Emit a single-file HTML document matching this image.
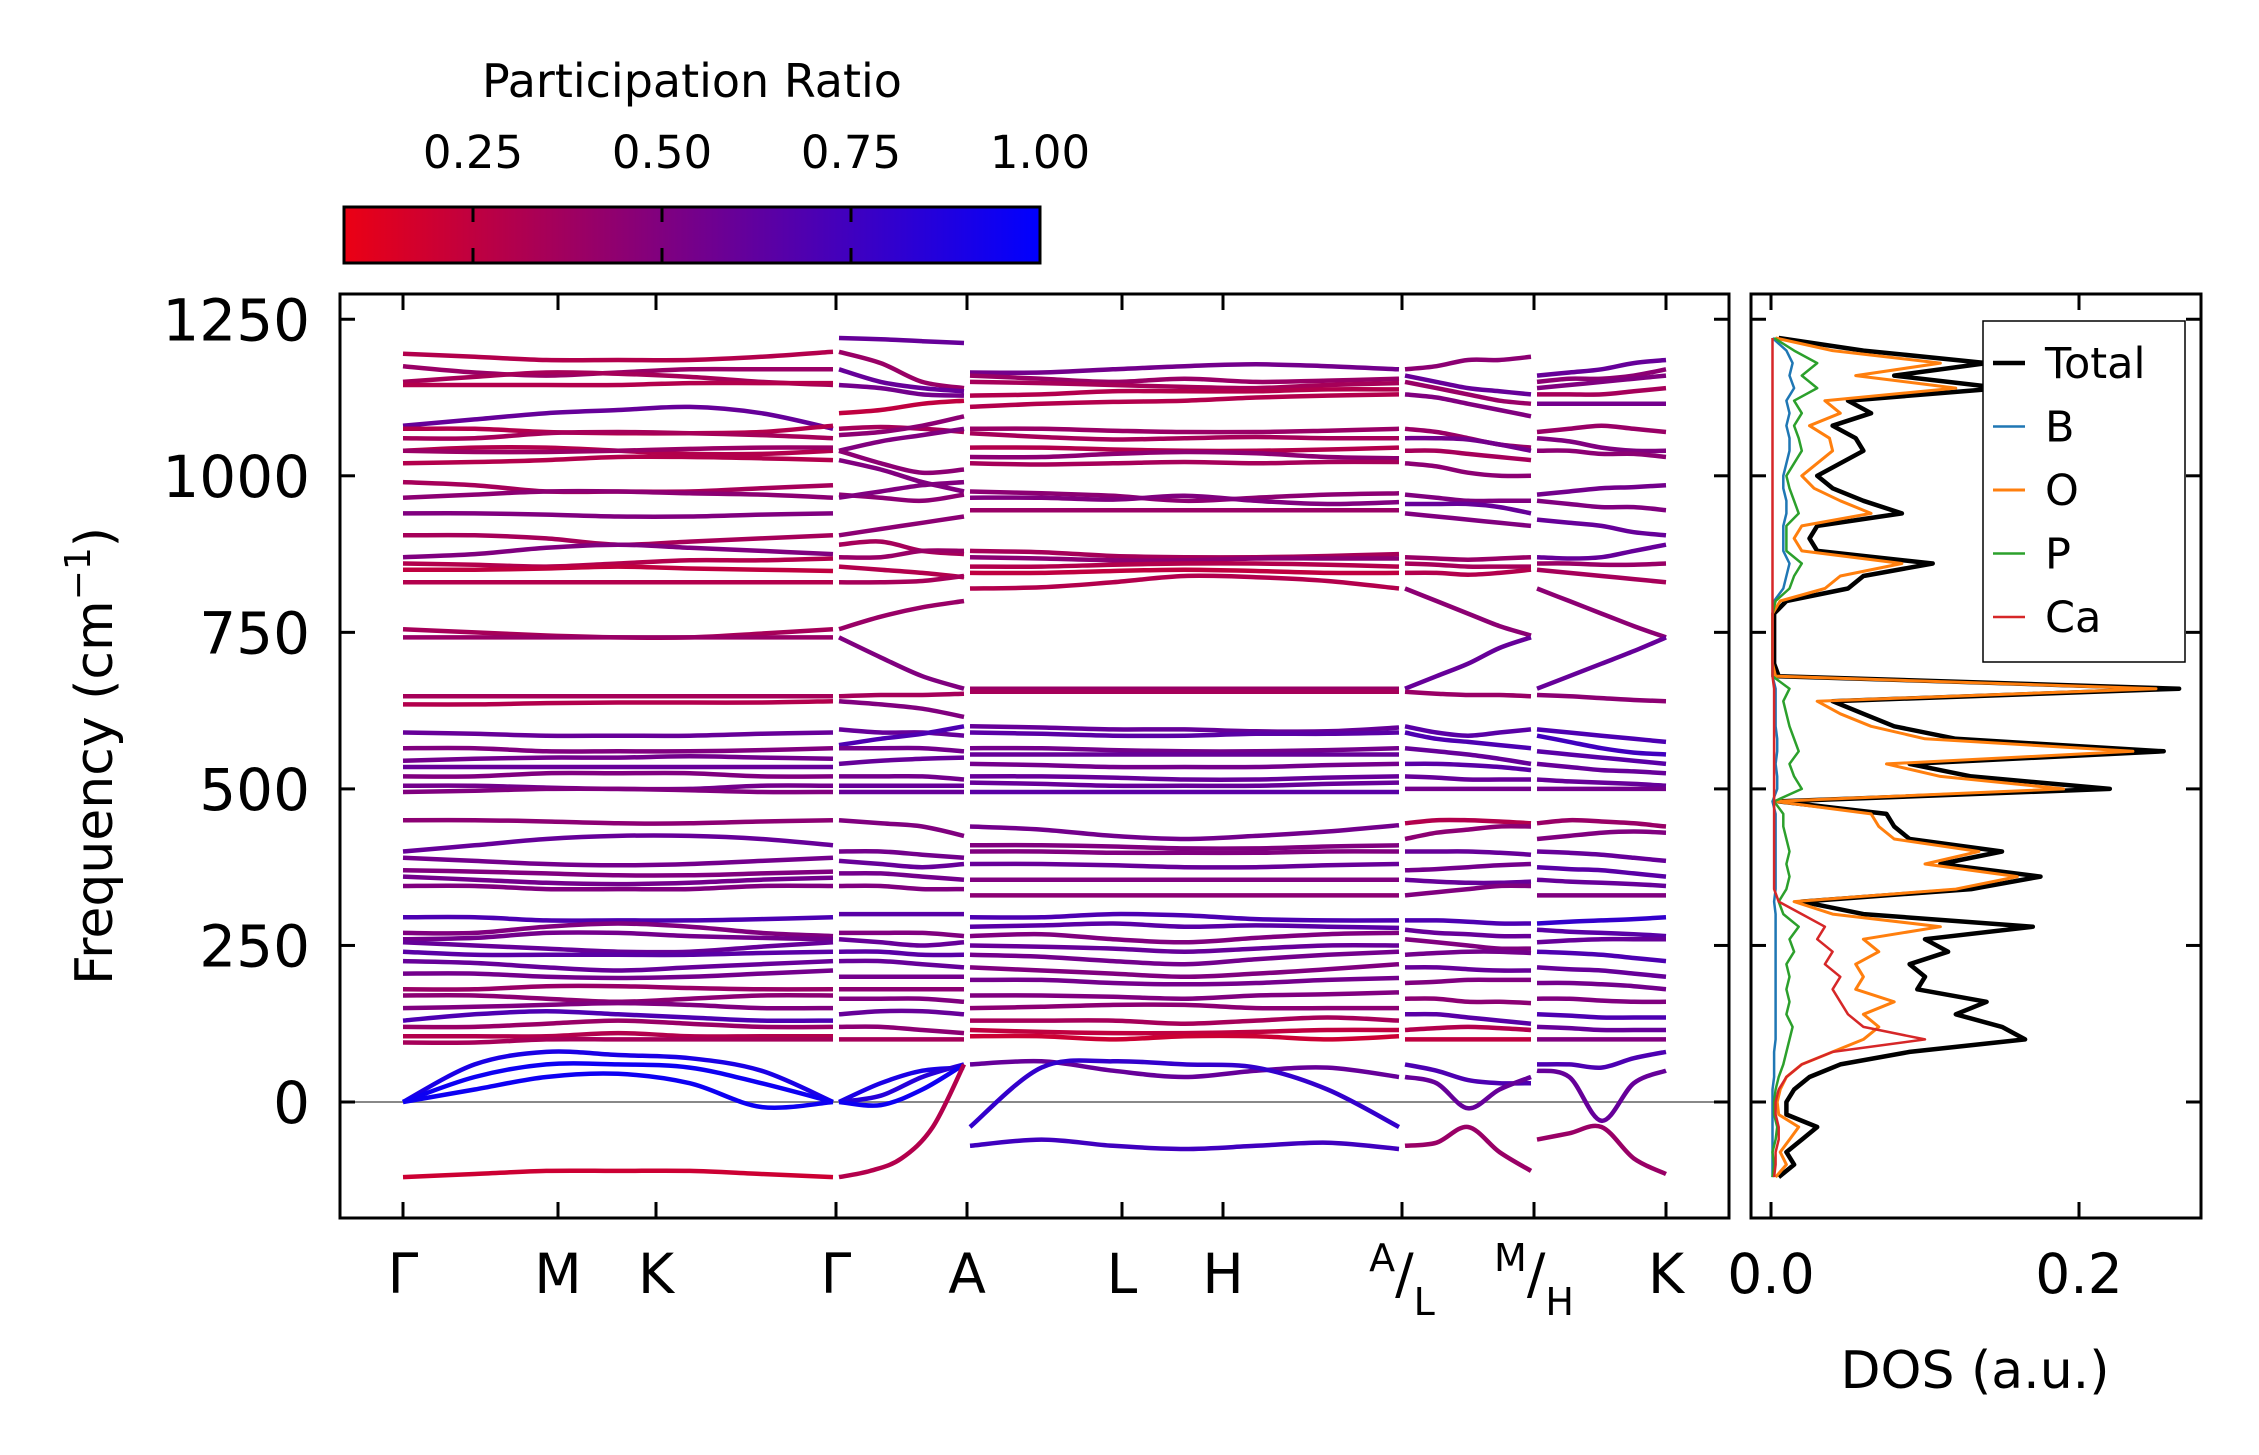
<!DOCTYPE html>
<html><head><meta charset="utf-8">
<style>
html,body{margin:0;padding:0;background:#fff;}
svg{display:block;font-family:"DejaVu Sans","Liberation Sans",sans-serif;}
</style></head>
<body>
<svg id="chart" width="2259" height="1455" viewBox="0 0 2259 1455" xmlns="http://www.w3.org/2000/svg">
<defs>
<linearGradient id="cmap" x1="0" x2="1" y1="0" y2="0">
<stop offset="0" stop-color="rgb(235,0,20)"/>
<stop offset="1" stop-color="rgb(0,0,255)"/>
</linearGradient>
<clipPath id="clipMain"><rect x="340" y="294" width="1389" height="924"/></clipPath>
<clipPath id="clipDos"><rect x="1751" y="294" width="450" height="924"/></clipPath>
</defs>
<g id="colorbar">
<text x="692" y="97" font-size="46" text-anchor="middle">Participation Ratio</text>
<rect x="344" y="207" width="696" height="56" fill="url(#cmap)" stroke="#000" stroke-width="3"/>
</g>
<g id="main"></g>
<g id="dos"></g>
</svg>
<script>
// ---------- data ----------
const kLabels = ["Γ","M","K","Γ","A","L","H","A/L","M/H","K"];
const yTicks = [0,250,500,750,1000,1250];
const cbTicks = [0.25,0.50,0.75,1.00];
const cbTickLabels = ["0.25","0.50","0.75","1.00"];
const dosTicks = [0.0,0.2];
const dosTickLabels = ["0.0","0.2"];
const panelRange = [[0,3],[3,4],[4,7],[7,8],[8,9]];

const bands1 = [
[1195,1190,1185,1185,1185,1190,1198],[1175,1165,1160,1165,1170,1170,1170],[1150,1158,1165,1163,1158,1150,1145],[1145,1145,1145,1145,1148,1148,1148],
[1080,1090,1100,1105,1110,1100,1075],[1075,1075,1070,1068,1068,1070,1080],[1060,1060,1068,1070,1068,1065,1060],[1040,1045,1045,1040,1035,1035,1040],
[1040,1038,1038,1040,1043,1045,1045],[1020,1022,1025,1030,1030,1028,1025],[990,985,975,975,975,980,985],[965,970,975,975,972,970,965],
[940,940,938,935,935,938,940],[905,905,900,890,895,900,905],[870,875,885,890,885,880,875],[860,858,855,860,865,865,868],
[850,850,852,855,852,850,848],[830,830,830,830,830,830,830],[755,750,745,742,742,748,755],[742,742,742,742,742,742,742],
[648,648,648,648,648,648,648],[635,635,637,638,638,638,640],[590,588,585,585,585,588,590],[565,565,560,560,560,562,565],
[545,548,550,550,552,550,548],[535,535,535,535,535,535,535],[520,520,525,525,525,520,520],[505,505,502,500,500,505,505],
[495,497,500,500,498,495,495],[450,450,448,445,445,448,450],[400,410,420,425,425,420,410],[390,385,380,378,380,385,390],
[370,368,365,362,362,365,368],[360,355,350,348,350,355,358],[345,345,340,340,340,345,345],[295,295,290,290,290,292,295],
[270,270,280,285,280,270,265],[260,262,270,270,265,262,260],[255,250,245,240,240,248,255],[240,235,235,235,235,238,240],
[225,222,215,210,215,220,225],[205,205,200,198,200,205,210],[180,180,185,185,182,180,180],[170,170,165,160,165,170,170],
[150,152,155,158,155,150,150],[130,140,145,140,135,130,130],[120,120,125,130,125,120,120],[105,105,105,110,105,105,105],
[95,95,100,100,100,100,100],[0,60,80,75,70,50,0],[0,40,60,60,55,30,0],[0,20,40,45,30,-8,0],[-120,-115,-110,-110,-110,-115,-120]
];
const pr1 = [0.3,0.4,0.35,0.3,0.6,0.3,0.35,0.3,0.4,0.3,0.35,0.45,0.5,0.35,0.5,0.3,0.25,0.3,0.35,0.4,
0.35,0.3,0.6,0.5,0.55,0.6,0.5,0.55,0.5,0.45,0.6,0.55,0.5,0.55,0.5,0.7,0.5,0.55,0.6,0.65,
0.6,0.55,0.4,0.45,0.5,0.7,0.4,0.3,0.35,0.9,0.95,0.95,0.2];

const bands2 = [
[1220,1218,1215,1212],[1198,1180,1150,1140],[1170,1150,1140,1135],[1145,1140,1130,1128],[1100,1105,1115,1120],
[1075,1078,1075,1070],[1065,1070,1080,1095],[1040,1055,1065,1075],[1040,1020,1005,1010],[1025,1010,990,975],
[970,965,960,970],[965,975,985,990],[905,915,925,935],[890,895,880,875],[870,870,880,880],[855,850,845,838],
[830,830,832,840],[755,775,790,800],[742,710,680,660],[648,650,650,652],[640,635,628,615],[595,590,590,585],
[570,580,588,600],[565,565,565,560],[540,545,548,550],[520,520,520,515],[505,505,505,505],[495,495,495,495],
[450,445,440,425],[400,400,395,390],[385,380,375,380],[365,365,360,355],[345,345,340,340],[300,300,300,300],
[270,270,270,265],[260,255,250,255],[240,240,235,235],[225,225,220,215],[200,200,200,200],[180,180,180,180],
[165,165,165,160],[140,145,145,140],[120,120,115,110],[100,100,100,100],[0,30,50,55],[0,10,40,60],[0,-5,20,60],
[-120,-110,-90,-40,60]
];
const pr2 = [0.6,0.4,0.6,0.55,0.25,0.35,0.45,0.5,0.45,0.5,0.45,0.5,0.45,0.35,0.4,0.3,0.35,0.4,0.5,0.35,0.5,0.6,
0.7,0.55,0.6,0.55,0.6,0.6,0.5,0.55,0.6,0.55,0.5,0.65,0.5,0.6,0.65,0.6,0.55,0.45,0.5,0.6,0.45,0.35,0.9,0.85,0.95,0.3];

const bands3 = [
[1165,1165,1170,1175,1178,1175,1170],[1160,1155,1150,1155,1150,1152,1155],[1150,1148,1145,1142,1140,1145,1148],[1128,1130,1135,1135,1135,1138,1138],
[1110,1115,1118,1120,1125,1128,1130],[1075,1075,1072,1070,1070,1072,1075],[1068,1062,1058,1060,1062,1060,1060],[1045,1045,1042,1040,1040,1042,1045],
[1030,1030,1035,1038,1036,1030,1028],[1020,1018,1020,1022,1020,1022,1022],[975,972,968,960,965,970,972],[965,965,962,968,960,955,958],
[945,945,945,945,945,945,945],[880,878,872,870,870,872,875],[870,868,865,865,868,868,868],[855,855,858,860,860,858,855],
[845,845,848,850,848,845,845],[820,822,830,840,838,832,820],[660,660,660,660,660,660,660],[655,655,655,655,655,655,655],
[600,598,595,595,592,592,598],[590,588,585,585,588,588,590],[565,565,562,560,560,562,565],[555,555,555,555,555,555,555],
[540,538,535,535,535,538,540],[520,520,518,515,515,518,520],[510,508,505,505,505,508,510],[495,495,495,495,495,495,495],
[440,435,425,420,425,432,442],[410,410,408,405,405,408,410],[400,400,398,398,398,400,400],[380,380,378,375,375,378,380],
[355,355,355,355,355,355,355],[330,330,330,330,330,330,330],[295,295,300,298,292,290,290],[280,282,285,280,282,280,278],
[265,268,260,255,262,268,270],[250,248,245,240,245,250,250],[235,232,225,220,228,235,240],[215,210,205,200,205,212,220],
[195,195,190,188,190,195,198],[170,170,168,165,170,172,175],[150,152,155,155,150,150,150],[130,130,130,125,130,135,130],
[115,112,110,110,112,115,115],[105,105,100,105,105,100,105],[60,65,50,40,50,55,40],[-40,55,65,60,55,20,-40],[-70,-60,-70,-75,-70,-65,-75]
];
const pr3 = [0.55,0.4,0.35,0.3,0.3,0.4,0.35,0.3,0.45,0.35,0.45,0.5,0.4,0.35,0.45,0.3,0.25,0.3,0.4,0.35,
0.6,0.65,0.55,0.6,0.55,0.6,0.6,0.65,0.55,0.5,0.5,0.6,0.5,0.45,0.7,0.65,0.5,0.6,0.55,0.5,
0.55,0.5,0.45,0.35,0.25,0.2,0.6,0.8,0.75];

const bands4 = [
[1170,1175,1185,1185,1190],[1160,1150,1140,1135,1130],[1150,1140,1130,1120,1115],[1130,1125,1115,1105,1095],
[1075,1070,1060,1050,1045],[1060,1060,1058,1050,1040],[1040,1040,1035,1030,1025],[1020,1015,1005,1000,1000],
[970,965,960,960,960],[955,955,955,950,940],[940,935,930,925,920],[870,868,866,868,870],[860,858,855,855,855],
[845,845,842,845,850],[820,800,780,760,745],[660,680,700,725,742],[655,652,650,650,648],[600,590,585,590,595],
[590,580,575,570,565],[565,560,555,548,540],[540,540,538,535,530],[520,518,515,515,515],[500,500,500,500,500],
[445,450,450,448,445],[420,430,435,440,440],[400,400,400,398,395],[370,372,375,378,380],[355,352,350,350,352],
[330,335,340,345,345],[290,290,288,285,285],[275,270,268,265,265],[260,255,250,245,245],[235,238,240,240,238],
[215,215,212,210,210],[190,192,195,195,195],[165,165,160,160,158],[140,140,135,130,125],[115,118,120,118,115],
[100,100,100,100,100],[60,50,35,30,30],[40,30,-10,20,40],[-70,-65,-40,-80,-110]
];
const pr4 = [0.45,0.6,0.4,0.5,0.4,0.55,0.35,0.45,0.5,0.6,0.5,0.4,0.35,0.3,0.45,0.6,0.4,0.65,0.7,0.6,0.65,0.6,0.55,
0.3,0.45,0.6,0.55,0.6,0.5,0.7,0.6,0.5,0.55,0.6,0.5,0.45,0.65,0.3,0.25,0.7,0.6,0.4];

const bands5 = [
[1160,1165,1170,1180,1185],[1150,1155,1155,1160,1170],[1140,1145,1150,1155,1160],[1130,1130,1130,1135,1140],
[1115,1115,1115,1115,1115],[1070,1075,1080,1075,1070],[1060,1055,1045,1040,1040],[1040,1040,1035,1035,1030],
[970,975,980,982,985],[960,955,950,950,945],[930,925,920,910,905],[870,868,870,880,890],[860,860,858,858,860],
[850,845,840,835,830],[820,800,780,760,742],[660,680,700,720,742],[650,648,645,642,640],[595,590,585,580,575],
[585,575,565,558,555],[560,555,550,545,540],[540,535,530,528,525],[515,512,510,508,505],[500,500,500,500,500],
[445,450,448,445,440],[420,425,430,432,430],[400,398,395,390,385],[375,372,370,365,360],[355,352,350,348,345],
[330,330,330,330,330],[285,288,290,292,295],[275,272,270,268,265],[255,258,260,260,260],[240,238,235,230,225],
[215,212,210,205,200],[190,190,188,185,180],[165,165,162,160,160],[140,138,135,135,135],[120,118,115,115,115],
[100,100,100,100,100],[60,60,55,70,80],[50,40,-30,30,50],[-60,-50,-40,-90,-115]
];
const pr5 = [0.6,0.45,0.5,0.35,0.55,0.4,0.5,0.45,0.55,0.5,0.6,0.6,0.4,0.35,0.45,0.6,0.45,0.7,0.75,0.65,0.6,0.6,0.55,
0.4,0.5,0.6,0.65,0.6,0.5,0.8,0.65,0.6,0.7,0.6,0.55,0.5,0.7,0.6,0.5,0.7,0.6,0.4];

const dosFreq = [-120,-100,-80,-60,-40,-20,0,20,40,60,80,100,120,140,160,180,200,220,240,260,280,300,320,340,360,380,400,420,440,460,480,500,520,540,560,580,600,620,640,660,680,700,720,740,760,780,800,820,840,860,880,900,920,940,960,980,1000,1020,1040,1060,1080,1100,1120,1140,1160,1180,1200,1220];
const dosTotal = [5,15,10,20,30,10,10,15,25,45,90,165,150,120,140,95,100,90,115,100,170,60,20,130,175,110,150,90,80,75,5,220,130,90,255,120,80,60,40,265,5,2,2,2,2,2,10,50,60,105,30,25,30,85,60,40,30,45,60,55,40,65,50,150,80,140,60,5];
const dosO = [3,10,6,12,18,5,4,6,10,20,40,60,70,60,80,55,60,55,70,60,110,40,15,120,160,100,135,80,70,65,3,190,110,75,235,100,65,45,30,250,3,1,1,1,1,1,6,35,45,85,20,15,20,65,45,28,20,30,40,38,25,45,35,120,55,110,40,3];
const dosCa = [2,3,3,5,5,3,3,5,10,20,40,100,60,50,45,40,45,35,40,30,35,20,5,2,2,2,2,2,2,2,2,2,2,2,2,2,2,2,2,2,1,1,1,1,1,1,1,1,1,1,1,1,1,1,1,1,1,1,1,1,1,1,1,1,1,1,1,1];
const dosP = [1,2,1,3,4,2,2,3,5,8,10,12,14,10,12,10,12,10,15,12,18,8,5,10,12,10,12,10,8,8,2,20,15,12,18,15,12,10,8,12,1,1,1,1,1,1,3,12,15,20,10,10,10,18,15,12,10,15,20,18,15,20,15,30,20,30,15,2];
const dosB = [1,1,1,1,1,1,1,1,2,2,2,3,3,3,3,3,3,3,3,3,3,3,2,3,3,3,3,3,3,3,1,4,4,3,4,4,3,3,3,3,1,1,1,1,1,1,2,8,10,12,8,8,8,10,10,8,8,10,12,12,10,12,10,15,12,14,10,1];

// ---------- axes ----------
const NS="http://www.w3.org/2000/svg";
const svg=document.getElementById('chart');
const mainG=document.getElementById('main');
const dosG=document.getElementById('dos');
const kX=[403,558,656,836,967,1122,1223,1402,1534,1666];
function xk(i){return kX[i];}
function yF(v){return 1102 - v*0.6262;}
function xD(d){return 1771 + d*1540;}
function cbX(p){return 1040 - (1-p)*756;}
function prColor(p){let t=Math.max(0,Math.min(1,(p-0.08)/0.92));return `rgb(${Math.round(235*(1-t))},0,${Math.round(20+235*t)})`;}
function mk(tag,attrs,parent){const e=document.createElementNS(NS,tag);for(const k in attrs)e.setAttribute(k,attrs[k]);(parent||svg).appendChild(e);return e;}
function smoothPath(pts){
  let d=`M${pts[0][0].toFixed(1)},${pts[0][1].toFixed(1)}`;
  for(let i=0;i<pts.length-1;i++){
    const p0=pts[Math.max(0,i-1)],p1=pts[i],p2=pts[i+1],p3=pts[Math.min(pts.length-1,i+2)];
    const c1=[p1[0]+(p2[0]-p0[0])/6,p1[1]+(p2[1]-p0[1])/6];
    const c2=[p2[0]-(p3[0]-p1[0])/6,p2[1]-(p3[1]-p1[1])/6];
    d+=`C${c1[0].toFixed(1)},${c1[1].toFixed(1)} ${c2[0].toFixed(1)},${c2[1].toFixed(1)} ${p2[0].toFixed(1)},${p2[1].toFixed(1)}`;
  }
  return d;
}

cbTicks.forEach((t,i)=>{
  const x=cbX(t);
  if(t<1){
    const a=mk('line',{x1:x,x2:x,y1:207,y2:222,stroke:'#000','stroke-width':3});
    
    
    const b=mk('line',{x1:x,x2:x,y1:248,y2:263,stroke:'#000','stroke-width':3});
    
    
  }
  const tx=mk('text',{x:x,y:168,'font-size':45,'text-anchor':'middle'});
  tx.textContent=cbTickLabels[i];
  
  
});

const zl=mk('line',{x1:340,x2:1729,y1:yF(0),y2:yF(0),stroke:'#888','stroke-width':2},mainG);



const bandSets=[[bands1,pr1],[bands2,pr2],[bands3,pr3],[bands4,pr4],[bands5,pr5]];
const bandG=mk('g',{'clip-path':'url(#clipMain)'},mainG);


bandSets.forEach(([bands,prs],pi)=>{
  const x0=xk(panelRange[pi][0])+ (pi>0?3:0), x1=xk(panelRange[pi][1]) - (pi<4?3:0);
  bands.forEach((b,bi)=>{
    const n=b.length;
    const pts=b.map((v,j)=>[x0+(x1-x0)*j/(n-1), yF(v)]);
    const p=mk('path',{d:smoothPath(pts),fill:'none',stroke:prColor(prs[bi]!==undefined?prs[bi]:0.5),'stroke-width':4.5,'stroke-linecap':'butt'},bandG);
    
    
  });
});

const mf=mk('rect',{x:340,y:294,width:1389,height:924,fill:'none',stroke:'#000','stroke-width':3},mainG);


yTicks.forEach(v=>{
  const y=yF(v);
  [[340,355],[1714,1729],[1751,1766],[2186,2201]].forEach(([a,b])=>{
    const t=mk('line',{x1:a,x2:b,y1:y,y2:y,stroke:'#000','stroke-width':3});
    
    
  });
  const tx=mk('text',{x:310,y:y+21,'font-size':58,'text-anchor':'end'});
  tx.textContent=String(v);
  
  
});
kLabels.forEach((lab,i)=>{
  const x=xk(i);
  const t1=mk('line',{x1:x,x2:x,y1:294,y2:310,stroke:'#000','stroke-width':3});
  
  
  const t2=mk('line',{x1:x,x2:x,y1:1202,y2:1218,stroke:'#000','stroke-width':3});
  
  
  const tx=mk('text',{x:x,y:1293,'font-size':55,'text-anchor':'middle'});
  if(lab.includes('/')){
    const [a,b]=lab.split('/');
    const s1=mk('tspan',{'font-size':38,dy:-22},tx);s1.textContent=a;
    const s2=mk('tspan',{'font-size':55,dy:22},tx);s2.textContent='/';
    const s3=mk('tspan',{'font-size':38,dy:22},tx);s3.textContent=b;
  } else tx.textContent=lab;
  
  
});
const yl=mk('text',{x:0,y:0,'font-size':52,'text-anchor':'middle',transform:'translate(112,756) rotate(-90)'});


const ys1=mk('tspan',{},yl);ys1.textContent='Frequency (cm';
const ys2=mk('tspan',{'font-size':36,dy:-22},yl);ys2.textContent='−1';
const ys3=mk('tspan',{dy:22},yl);ys3.textContent=')';

const dosLines=[[dosTotal,'#000',4.5,'dos-total'],[dosB,'#1f77b4',2.5,'dos-b'],[dosO,'#ff7f0e',3,'dos-o'],[dosP,'#2ca02c',2.5,'dos-p'],[dosCa,'#d62728',2.5,'dos-ca']];
const dclip=mk('g',{'clip-path':'url(#clipDos)'},dosG);


dosLines.forEach(([arr,col,w,name])=>{
  let d='';
  arr.forEach((v,i)=>{d+=(i?'L':'M')+xD(v/1000).toFixed(1)+','+yF(dosFreq[i]).toFixed(1);});
  const p=mk('path',{d:d,fill:'none',stroke:col,'stroke-width':w,'stroke-linejoin':'round'},dclip);
  
  
});
const df=mk('rect',{x:1751,y:294,width:450,height:924,fill:'none',stroke:'#000','stroke-width':3},dosG);


dosTicks.forEach((v,i)=>{
  const x=xD(v);
  const t1=mk('line',{x1:x,x2:x,y1:1202,y2:1218,stroke:'#000','stroke-width':3});
  
  
  const t2=mk('line',{x1:x,x2:x,y1:294,y2:310,stroke:'#000','stroke-width':3});
  
  
  const tx=mk('text',{x:x,y:1293,'font-size':55,'text-anchor':'middle'});
  tx.textContent=dosTickLabels[i];
  
  
});
const dl=mk('text',{x:1975,y:1388,'font-size':52,'text-anchor':'middle'});
dl.textContent='DOS (a.u.)';


const lg=mk('g',{},dosG);


const lb=mk('rect',{x:1983,y:321,width:202,height:341,fill:'#fff',stroke:'#000','stroke-width':1.5},lg);


const legNames=['Total','B','O','P','Ca'];
const legCols=['#000','#1f77b4','#ff7f0e','#2ca02c','#d62728'];
const legW=[4.5,2.5,3,2.5,2.5];
legNames.forEach((n,i)=>{
  const y=363+i*63.5;
  const ln=mk('line',{x1:1993,x2:2025,y1:y,y2:y,stroke:legCols[i],'stroke-width':legW[i]},lg);
  
  
  const tx=mk('text',{x:2045,y:y+15,'font-size':43},lg);
  tx.textContent=n;
  
  
});
</script>
</body></html>
